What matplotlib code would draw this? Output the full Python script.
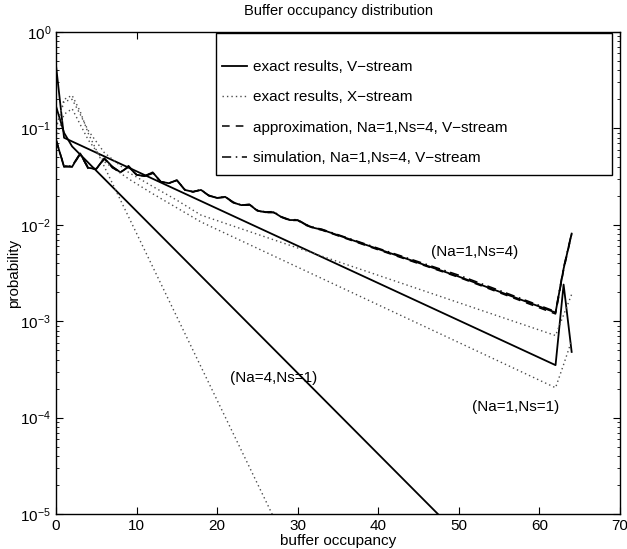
import matplotlib
matplotlib.use("Agg")
import matplotlib.pyplot as plt
from matplotlib.patches import Rectangle
from matplotlib.ticker import LogLocator, FixedLocator

plt.rcParams['font.family'] = ['Liberation Sans', 'DejaVu Sans']
plt.rcParams['mathtext.fontset'] = 'custom'
plt.rcParams['mathtext.rm'] = 'Liberation Sans'

# ---------------- data ----------------
# exact results, V-stream, (Na=1,Ns=4)
v14_x = [0, 1, 2, 3, 4, 5, 6, 7, 8, 9, 10, 11, 12, 13, 14, 15, 16, 17, 18, 19,
         20, 21, 22, 23, 24, 25, 26, 27, 28, 29, 30, 31, 32, 33, 40, 50, 62, 63, 64]
v14_p = [0.076, 0.040, 0.040, 0.055, 0.039, 0.038, 0.049, 0.040, 0.035, 0.040,
         0.033, 0.032, 0.035, 0.028, 0.027, 0.029, 0.023, 0.022, 0.023, 0.020,
         0.019, 0.0195, 0.017, 0.016, 0.0162, 0.014, 0.0135, 0.0135, 0.012, 0.0112,
         0.0112, 0.010, 0.0093, 0.0089, 0.0056, 0.0029, 0.00123, 0.0035, 0.0081]
# exact results, V-stream, (Na=1,Ns=1)
v11_x = [0, 1, 62, 63, 64]
v11_p = [0.45, 0.080, 0.00035, 0.0024, 0.00048]
# exact results, V-stream, (Na=4,Ns=1)
v41_x = [0, 1, 2, 48]
v41_p = [0.17, 0.09, 0.065, 8.9e-6]

# exact results, X-stream
x14_x = [0, 1, 2, 3, 4, 6, 9, 12, 15, 18, 62, 64]
x14_p = [0.10, 0.19, 0.20, 0.14, 0.095, 0.056, 0.035, 0.025, 0.018, 0.0126, 0.00071, 0.0019]
x11_x = [0, 1, 2, 3, 4, 6, 9, 12, 15, 18, 62, 63, 64]
x11_p = [0.079, 0.14, 0.16, 0.11, 0.076, 0.045, 0.030, 0.021, 0.015, 0.0107,
         0.000204, 0.000355, 0.00063]
x41_x = [0, 1, 2, 3, 4, 27]
x41_p = [0.10, 0.20, 0.22, 0.15, 0.089, 9.3e-6]

# approximation / simulation, Na=1,Ns=4, V-stream
as_x = v14_x
appr_p = [0.075, 0.041, 0.040, 0.054, 0.039, 0.038, 0.048, 0.040, 0.035, 0.040,
          0.033, 0.032, 0.034, 0.028, 0.027, 0.029, 0.023, 0.022, 0.023, 0.020,
          0.019, 0.0193, 0.017, 0.016, 0.0160, 0.014, 0.0134, 0.0134, 0.012, 0.0111,
          0.0111, 0.0099, 0.0092, 0.0088, 0.0055, 0.00285, 0.00119, 0.0034, 0.0080]
sim_p = [0.077, 0.040, 0.041, 0.055, 0.038, 0.038, 0.049, 0.039, 0.035, 0.041,
         0.033, 0.032, 0.035, 0.028, 0.027, 0.029, 0.0232, 0.022, 0.0232, 0.0202,
         0.019, 0.0196, 0.0172, 0.016, 0.0163, 0.0142, 0.0136, 0.0137, 0.0121, 0.0113,
         0.0113, 0.0101, 0.0094, 0.0090, 0.0057, 0.0030, 0.00126, 0.0036, 0.0082]

x_ticks = [0, 10, 20, 30, 40, 50, 60, 70]
labels = ["exact results, V\u2212stream", "exact results, X\u2212stream",
          "approximation, Na=1,Ns=4, V\u2212stream", "simulation, Na=1,Ns=4, V\u2212stream"]
annots = [("(Na=1,Ns=4)", 52.0, 5.2e-3), ("(Na=4,Ns=1)", 27.0, 2.6e-4),
          ("(Na=1,Ns=1)", 57.0, 1.3e-4)]

# ---------------- figure ----------------
W, H = 627, 549
fig = plt.figure(figsize=(W / 100, H / 100), dpi=100)
L, R, T, B = 56, 620, 32, 514
ax = fig.add_axes([L / W, 1 - B / H, (R - L) / W, (B - T) / H])

dot = (0, (1, 2.2))
lw = 1.3
h_solid, = ax.plot(v14_x, v14_p, color='black', lw=lw)
ax.plot(v11_x, v11_p, color='black', lw=lw)
ax.plot(v41_x, v41_p, color='black', lw=lw)
h_dot, = ax.plot(x14_x, x14_p, color='0.3', lw=1.0, ls=dot)
ax.plot(x11_x, x11_p, color='0.3', lw=1.0, ls=dot)
ax.plot(x41_x, x41_p, color='0.3', lw=1.0, ls=dot)
h_dash, = ax.plot(as_x, appr_p, color='black', lw=1.1, ls=(0, (5, 4)))
h_dd, = ax.plot(as_x, sim_p, color='black', lw=1.1, ls=(0, (6, 3, 1, 3)))

ax.set_yscale('log')
ax.set_xlim(0, 70)
ax.set_ylim(1e-5, 1)
ax.xaxis.set_major_locator(FixedLocator(x_ticks))
ax.yaxis.set_major_locator(LogLocator(base=10, numticks=10))
ax.yaxis.set_minor_locator(LogLocator(base=10, subs=range(2, 10), numticks=20))
ax.tick_params(which='both', direction='in', top=True, right=True, labelsize=11)
ax.tick_params(which='major', length=5, width=0.8)
ax.tick_params(which='minor', length=2.5, width=0.6)
for s in ax.spines.values():
    s.set_linewidth(1.0)

ax.set_title("Buffer occupancy distribution", fontsize=10.5, pad=12)
ax.set_xlabel("buffer occupancy", fontsize=11, labelpad=1)
ax.set_ylabel("probability", fontsize=11)
ax.yaxis.set_label_coords((21 - L) / (R - L), 0.5)

for txt, xx, yy in annots:
    ax.text(xx, yy, txt, fontsize=11, ha='center', va='center')

# legend
def ax_frac(px, py):
    return (px - L) / (R - L), (B - py) / (B - T)

x0, y0 = ax_frac(216, 33)
x1, y1 = ax_frac(612, 175)
ax.add_patch(Rectangle((x0, y1), x1 - x0, y0 - y1, transform=ax.transAxes,
                       fill=True, facecolor='white', edgecolor='black', lw=1.0, zorder=4))
ha_x, ha_y = ax_frac(222, 60)
leg = ax.legend([h_solid, h_dot, h_dash, h_dd], labels, loc='upper left',
                bbox_to_anchor=(ha_x, ha_y), frameon=False, fontsize=11,
                borderpad=0, borderaxespad=0, handlelength=1.65,
                handletextpad=0.35, labelspacing=1.07)
leg.set_zorder(5)

fig.savefig("out.png", dpi=100)
